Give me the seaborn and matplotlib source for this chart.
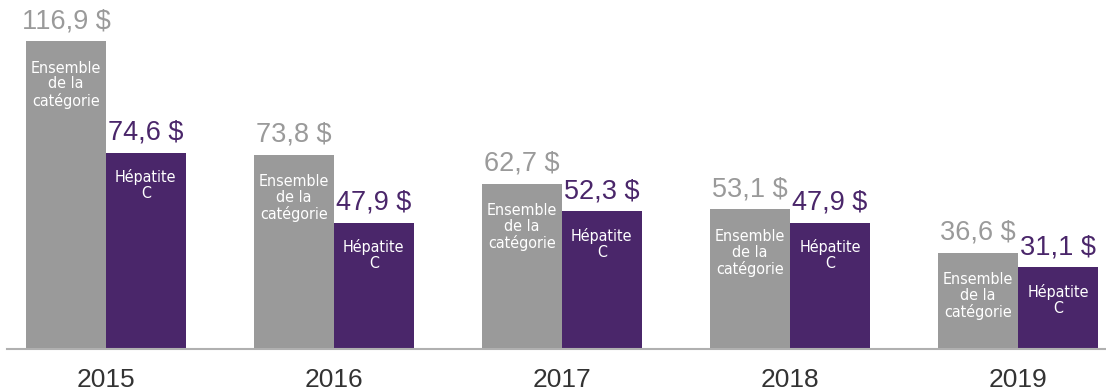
import matplotlib
matplotlib.use("Agg")
import matplotlib.pyplot as plt
from matplotlib import font_manager
import pandas as pd
import seaborn as sns

years = ["2015", "2016", "2017", "2018", "2019"]
total_values = [116.9, 73.8, 62.7, 53.1, 36.6]
hepc_values = [74.6, 47.9, 52.3, 47.9, 31.1]
series_names = ["Ensemble de la catégorie", "Hépatite C"]
inner_labels = ["Ensemble\nde la\ncatégorie", "Hépatite\nC"]
colors = ["#9a9a9a", "#4a266a"]

df = pd.DataFrame({
    "year": years * 2,
    "value": total_values + hepc_values,
    "series": [series_names[0]] * len(years) + [series_names[1]] * len(years),
})

sns.set_theme(style="white")
plt.rcParams["font.family"] = ["Liberation Sans", "DejaVu Sans"]

# Condensed face for the labels printed inside the bars
files = [f.fname for f in font_manager.fontManager.ttflist]
cond = [f for f in files if "DejaVuSansCondensed.ttf" in f]
if cond:
    inner_font = font_manager.FontProperties(fname=cond[0], size=11.5)
else:
    inner_font = font_manager.FontProperties(family="Liberation Sans", size=11.5)

W, H = 1106, 392
fig = plt.figure(figsize=(W / 100, H / 100), dpi=100)
ax = fig.add_axes([7 / W, (H - 349) / H, 1 - 7 / W, 349 / H])

sns.barplot(data=df, x="year", y="value", hue="series", palette=colors,
            width=0.70, saturation=1, linewidth=0, ax=ax, legend=False)

ax.set_xlim(-0.434, 4.386)
ax.set_ylim(0, 132.5)

inner_offsets = [-14, -12]
for container, vals, col, lab, off in zip(ax.containers, [total_values, hepc_values],
                                          colors, inner_labels, inner_offsets):
    for bar, v in zip(container, vals):
        cx = bar.get_x() + bar.get_width() / 2
        txt = f"{v:.1f}".replace(".", ",") + " $"
        ax.annotate(txt, (cx, v), xytext=(0, 5), textcoords="offset points",
                    ha="center", va="bottom", fontsize=19.5, color=col)
        ax.annotate(lab, (cx, v), xytext=(0, off), textcoords="offset points",
                    ha="center", va="top", fontproperties=inner_font,
                    color="white", linespacing=1.08)

ax.set_xlabel("")
ax.set_ylabel("")
ax.set_yticks([])
for s in ["top", "right", "left"]:
    ax.spines[s].set_visible(False)
ax.spines["bottom"].set_color("#b0b0b0")
ax.spines["bottom"].set_linewidth(1.5)
ax.tick_params(axis="x", length=0, pad=14, labelsize=19, labelcolor="#333333")

fig.savefig("out.png", dpi=100)
